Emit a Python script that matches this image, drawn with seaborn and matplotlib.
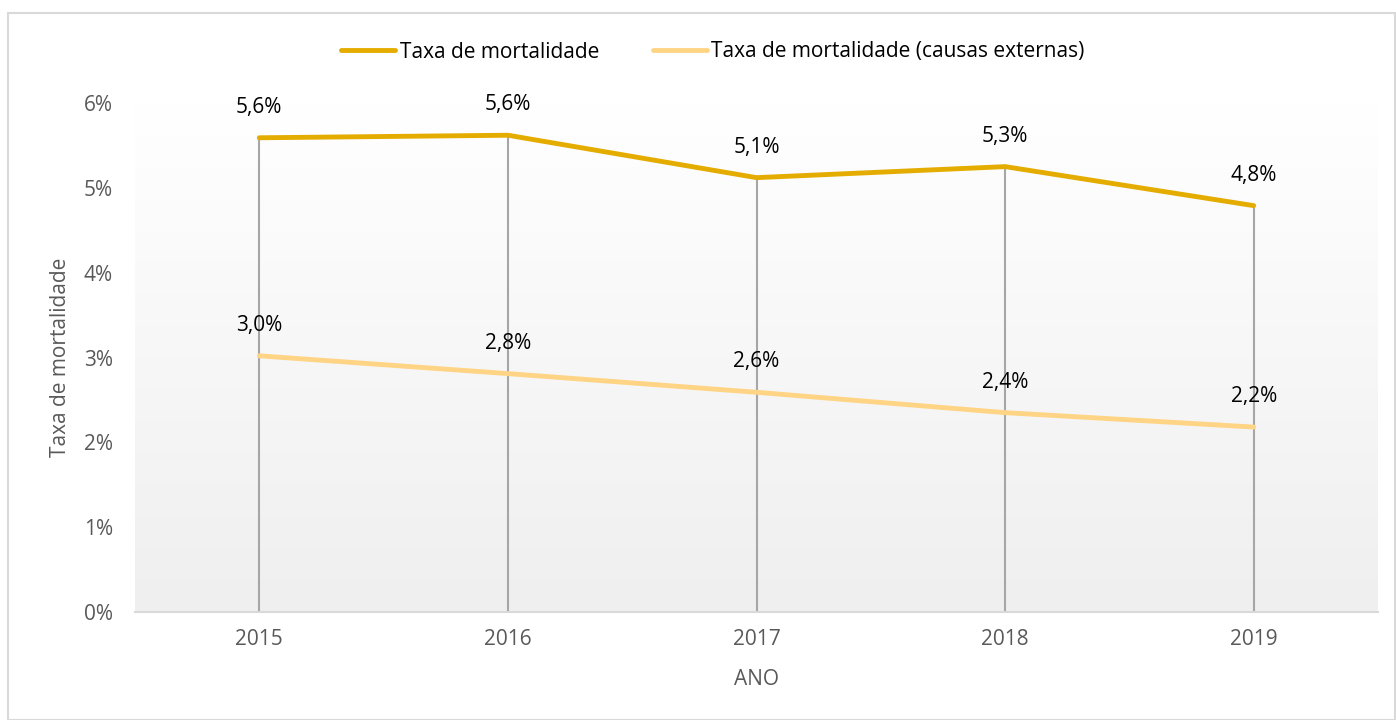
import numpy as np
import pandas as pd
import matplotlib
matplotlib.use('Agg')
import matplotlib.pyplot as plt
import seaborn as sns
from matplotlib.patches import Rectangle

# Dados
anos = ['2015', '2016', '2017', '2018', '2019']
taxa_total = [5.59, 5.62, 5.12, 5.25, 4.79]
taxa_externas = [3.02, 2.81, 2.59, 2.35, 2.18]
rotulos_total = ['5,6%', '5,6%', '5,1%', '5,3%', '4,8%']
rotulos_externas = ['3,0%', '2,8%', '2,6%', '2,4%', '2,2%']
yticks = [0, 1, 2, 3, 4, 5, 6]

serie1 = 'Taxa de mortalidade'
serie2 = 'Taxa de mortalidade (causas externas)'

df = pd.DataFrame({'ano': anos * 2,
                   'taxa': taxa_total + taxa_externas,
                   'serie': [serie1] * 5 + [serie2] * 5})

sns.set_theme(style='white')
plt.rcParams['font.family'] = ['Open Sans', 'DejaVu Sans']

cor1 = '#E5AC00'
cor2 = '#FFD485'
cinza = '#595959'
fs = 15

fig = plt.figure(figsize=(13.96, 7.2), dpi=100)
ax = fig.add_axes([135 / 1396, 1 - 612 / 720, (1378 - 135) / 1396, (612 - 103) / 720])

# moldura externa
fig.patches.append(Rectangle((8 / 1396, 0), 1 - 8 / 1396 - 0.0005, 1 - 13 / 720,
                             transform=fig.transFigure, fill=False,
                             edgecolor='#d9d9d9', linewidth=1.5))

ax.set_xlim(-0.5, 4.5)
ax.set_ylim(0, 6)

# fundo em degradê
grad = np.linspace(0, 1, 256).reshape(-1, 1)
cmap = matplotlib.colors.LinearSegmentedColormap.from_list('g', ['#efefef', '#ffffff'])
ax.imshow(grad, cmap=cmap, extent=(-0.5, 4.5, 0, 6), aspect='auto', origin='lower', zorder=0)

# linhas de queda
for i, v in enumerate(taxa_total):
    ax.plot([i, i], [0, v], color='#a6a6a6', linewidth=1.5, zorder=1)

sns.lineplot(data=df, x='ano', y='taxa', hue='serie', palette=[cor1, cor2],
             linewidth=3.5, ax=ax, sort=False, zorder=3)

for valores, rotulos in [(taxa_total, rotulos_total), (taxa_externas, rotulos_externas)]:
    for i, (v, r) in enumerate(zip(valores, rotulos)):
        ax.annotate(r, (i, v), xytext=(0, 22), textcoords='offset points',
                    ha='center', va='center', fontsize=fs, color='black')

ax.set_yticks(yticks)
ax.set_yticklabels([f'{t}%' for t in yticks], fontsize=fs, color=cinza)
ax.set_xticks(range(len(anos)))
ax.set_xticklabels(anos, fontsize=fs, color=cinza)
ax.tick_params(axis='y', length=0, pad=16)
ax.tick_params(axis='x', length=0, pad=12)
ax.set_xlabel('ANO', fontsize=fs, color=cinza, labelpad=14)
ax.set_ylabel('Taxa de mortalidade', fontsize=fs, color=cinza, labelpad=9)

for s in ['top', 'right', 'left']:
    ax.spines[s].set_visible(False)
ax.spines['bottom'].set_color('#d9d9d9')
ax.spines['bottom'].set_linewidth(1.5)

leg = ax.legend(loc='center', bbox_to_anchor=(713 / 1396, 1 - 52 / 720),
                bbox_transform=fig.transFigure, ncol=2, frameon=False,
                fontsize=fs, handlelength=2.6, handletextpad=0.2, columnspacing=2.6, title=None)
for h in leg.get_lines():
    h.set_linewidth(3.5)
for t in leg.get_texts():
    t.set_color('black')

fig.savefig('out.png', dpi=100)
